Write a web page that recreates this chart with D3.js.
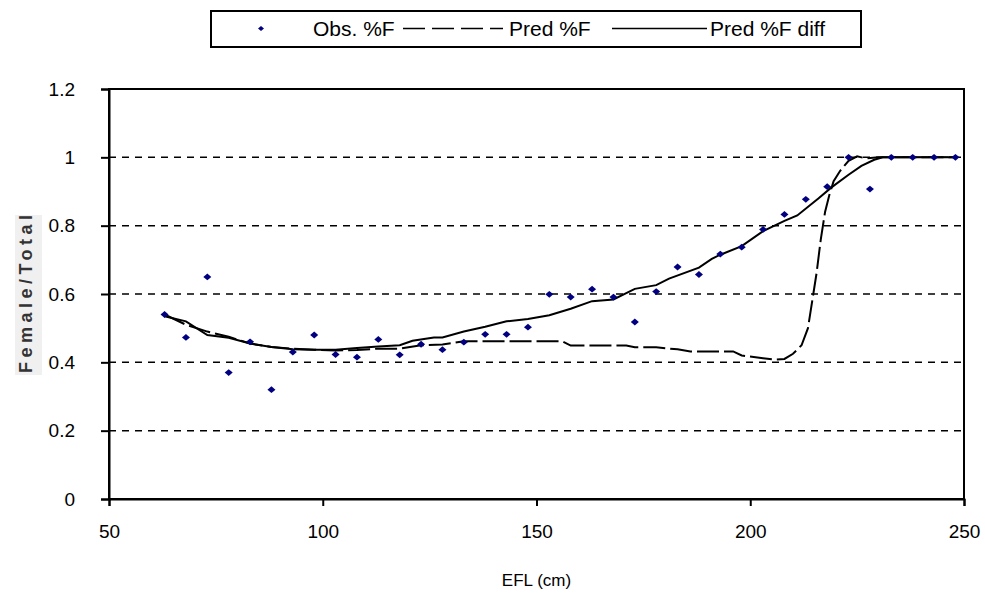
<!DOCTYPE html>
<html><head><meta charset="utf-8">
<script src="https://cdn.jsdelivr.net/npm/d3@7"></script>
<style>body{margin:0;background:#fff}svg{display:block;font-family:"Liberation Sans",Arial,sans-serif}</style>
</head><body><svg id="c" width="985" height="597"></svg>
<script>
const obsX = [63,68,73,78,83,88,93,98,103,108,113,118,123,128,133,138,143,148,153,158,163,168,173,178,183,188,193,198,203,208,213,218,223,228,233,238,243,248];
const obsY = [0.54,0.473,0.65,0.37,0.46,0.32,0.43,0.48,0.423,0.415,0.467,0.422,0.453,0.437,0.459,0.482,0.482,0.503,0.599,0.591,0.614,0.591,0.518,0.607,0.679,0.657,0.717,0.737,0.789,0.833,0.877,0.914,1.0,0.907,1.0,1.0,1.0,1.0];
const diffX = [63,68,73,78,83,88,93,98,103,108,113,118,121,126,128,133,138,143,148,153,158,163,168,173,178,181,188,191,193,198,203,208,211,216,219,223,226,229,231,238,243,248];
const diffY = [0.535,0.52,0.48,0.472,0.455,0.445,0.438,0.437,0.437,0.442,0.446,0.45,0.463,0.473,0.473,0.49,0.504,0.52,0.527,0.538,0.557,0.579,0.584,0.615,0.626,0.645,0.677,0.703,0.715,0.74,0.784,0.814,0.83,0.88,0.912,0.949,0.975,0.993,1.0,1.0,1.0,1.0];
const predX = [63,68,73,78,83,88,93,98,103,108,113,118,123,128,133,138,143,148,153,156,158,163,168,171,173,178,183,186,188,193,196,198,203,206,208,210,212,213.5,214.5,215.5,216.5,217.5,218.5,219.5,221,223,225,227,230,233,238,243,248];
const predY = [0.54,0.51,0.49,0.475,0.455,0.445,0.44,0.437,0.435,0.436,0.44,0.44,0.45,0.452,0.462,0.462,0.462,0.462,0.462,0.462,0.449,0.449,0.449,0.449,0.444,0.444,0.438,0.432,0.432,0.432,0.432,0.42,0.412,0.408,0.41,0.425,0.45,0.5,0.58,0.66,0.76,0.84,0.89,0.93,0.96,0.99,1.003,0.997,1.0,1.0,1.0,1.0,1.0];
const xTicks = [50,100,150,200,250];
const yTicks = [0,0.2,0.4,0.6,0.8,1,1.2];
const seriesNames = ["Obs. %F","Pred %F","Pred %F diff"];

const svg = d3.select("#c");
const L=109,R=964,T=89,B=499;
const x = d3.scaleLinear().domain([50,250]).range([L,R]);
const y = d3.scaleLinear().domain([0,1.2]).range([B,T]);
const fs = 19, lfs = 21;

// gridlines
svg.append("g").selectAll("line").data(yTicks.filter(v=>v>0&&v<1.2)).join("line")
  .attr("x1",L).attr("x2",R).attr("y1",d=>y(d)).attr("y2",d=>y(d))
  .attr("stroke","#000").attr("stroke-width",1.5).attr("stroke-dasharray","7,6");

// frame
svg.append("rect").attr("x",L).attr("y",T).attr("width",R-L).attr("height",B-T)
  .attr("fill","none").attr("stroke","#000").attr("stroke-width",2);

// axes
const xa = svg.append("g").attr("transform",`translate(0,${B})`)
  .call(d3.axisBottom(x).tickValues(xTicks).tickSize(7).tickPadding(19).tickFormat(d3.format("d")));
const ya = svg.append("g").attr("transform",`translate(${L},0)`)
  .call(d3.axisLeft(y).tickValues(yTicks).tickSize(8).tickPadding(26).tickFormat(d=>String(d)));
[xa,ya].forEach(a=>{
  a.select(".domain").attr("stroke","#000").attr("stroke-width",2);
  a.selectAll(".tick line").attr("stroke","#000").attr("stroke-width",2);
  a.selectAll(".tick text").attr("font-size",fs).attr("font-family","Liberation Sans, Arial, sans-serif").attr("fill","#000");
});

// lines
const line = d3.line().x(d=>x(d[0])).y(d=>y(d[1]));
svg.append("path").datum(predX.map((v,i)=>[v,predY[i]])).attr("d",line)
  .attr("fill","none").attr("stroke","#000").attr("stroke-width",2).attr("stroke-dasharray","22,5");
svg.append("path").datum(diffX.map((v,i)=>[v,diffY[i]])).attr("d",line)
  .attr("fill","none").attr("stroke","#000").attr("stroke-width",2);

// points (squat diamonds)
const diamond = "M0,-3.4L4,0L0,3.4L-4,0Z";
svg.append("g").selectAll("path").data(obsX.map((v,i)=>[v,obsY[i]])).join("path")
  .attr("d",diamond).attr("transform",d=>`translate(${x(d[0])},${y(d[1])})`)
  .attr("fill","#000080");

// axis titles
svg.append("text").attr("x",(L+R)/2).attr("y",586).attr("text-anchor","middle")
  .attr("font-size",17).text("EFL (cm)");
svg.append("rect").attr("x",15).attr("y",215).attr("width",27).attr("height",160).attr("fill","#f0f0f0");
svg.append("text").attr("transform",`translate(32,${(T+B)/2}) rotate(-90)`)
  .attr("text-anchor","middle").attr("font-size",18).attr("font-weight","bold")
  .attr("textLength",158).attr("lengthAdjust","spacing").attr("fill","#333").text("Female/Total");

// legend
const lg = svg.append("g");
lg.append("rect").attr("x",211).attr("y",11).attr("width",650).attr("height",36)
  .attr("fill","#fff").attr("stroke","#000").attr("stroke-width",2);
lg.append("path").attr("d","M0,-2.6L3,0L0,2.6L-3,0Z").attr("transform","translate(261,28.5)").attr("fill","#000080");
lg.append("text").attr("x",313).attr("y",35.5).attr("font-size",lfs).text(seriesNames[0]);
lg.append("line").attr("x1",403).attr("x2",503).attr("y1",28.5).attr("y2",28.5)
  .attr("stroke","#000").attr("stroke-width",1.5).attr("stroke-dasharray","22,7");
lg.append("text").attr("x",509).attr("y",35.5).attr("font-size",lfs).text(seriesNames[1]);
lg.append("line").attr("x1",612).attr("x2",707).attr("y1",28.5).attr("y2",28.5)
  .attr("stroke","#000").attr("stroke-width",1.5);
lg.append("text").attr("x",710).attr("y",35.5).attr("font-size",lfs).text(seriesNames[2]);
</script></body></html>
